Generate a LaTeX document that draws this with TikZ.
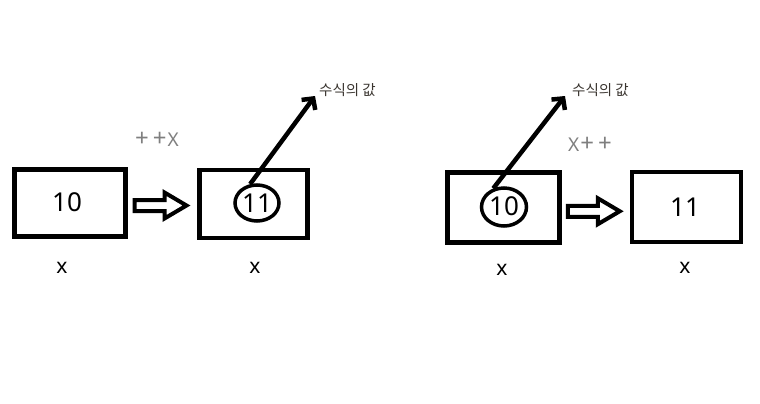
\documentclass[tikz,border=0pt]{standalone}
\usepackage{fontspec}
\setmainfont{Noto Sans}
\newfontfamily\kor{Noto Sans CJK KR}
\usetikzlibrary{arrows.meta,calc,shapes.geometric}
\definecolor{plusgray}{HTML}{7F7F7F}
\definecolor{kogray}{HTML}{3A3530}
\newcommand{\bigplus}{{\fontsize{24}{24}\selectfont +}}
\tikzset{
  valbox/.style={draw, line width=4.5pt, rectangle, inner sep=0pt},
  numtxt/.style={inner sep=0pt, font=\fontsize{26}{26}\selectfont},
  ring/.style={draw, line width=3.5pt, ellipse, inner sep=0pt},
  varlbl/.style={inner sep=0pt, font=\fontsize{21}{21}\selectfont},
  oplbl/.style={inner sep=0pt, text=plusgray, font=\fontsize{19}{19}\selectfont},
  kolbl/.style={inner sep=0pt, text=kogray, font=\kor\fontsize{14.5}{14.5}\selectfont},
  valarrow/.style={line width=4.5pt, -{Straight Barb[length=8pt,width=17pt]}},
  hollow/.pic={\draw[line width=4pt, line join=miter]
     (-26,-5.5) -- (4,-5.5) -- (4,-13) -- (26,0) -- (4,13) -- (4,5.5) -- (-26,5.5) -- cycle;}
}
\begin{document}
\begin{tikzpicture}[x=1pt,y=-1pt]
\useasboundingbox (0,0) rectangle (760,404);
% left: ++x
\node[valbox, minimum width=111pt, minimum height=67pt] (b1) at (70,203) {};
\node[numtxt] (n1) at (67,202) {10};
\node[valbox, minimum width=108pt, minimum height=68pt] (b2) at (253.5,204) {};
\node[numtxt] (n2) at (257,203) {11};
\node[ring, minimum width=44pt, minimum height=36pt] (e1) at (257,203) {};
\pic at ($(b1.east)!0.5!(b2.west)+(-2,2)$) {hollow};
\node[oplbl] (op1) at (157,139) {\bigplus\kern4pt\bigplus\kern1pt X};
\node[varlbl] (x1) at (62,268) {x};
\node[varlbl] (x2) at (255,268) {x};
\node[kolbl, anchor=west] (k1) at (319,90) {수식의 값};
\coordinate (t1) at (315,96);
\draw[valarrow] (e1.110) -- (t1);
% right: x++
\node[valbox, minimum width=112pt, minimum height=70pt] (b3) at (503.5,207.5) {};
\node[numtxt] (n3) at (504,206) {10};
\node[ring, minimum width=45pt, minimum height=38pt] (e2) at (504,207) {};
\node[valbox, minimum width=109pt, minimum height=70pt] (b4) at (686.5,207) {};
\node[numtxt] (n4) at (685,207) {11};
\pic at ($(b3.east)!0.5!(b4.west)+(-2,4)$) {hollow};
\node[oplbl] (op2) at (590,144) {X\kern1pt\bigplus\kern4pt\bigplus};
\node[varlbl] (x3) at (502,270) {x};
\node[varlbl] (x4) at (685,268) {x};
\node[kolbl, anchor=west] (k2) at (572,90) {수식의 값};
\coordinate (t2) at (565,96);
\draw[valarrow] (e2.120) -- (t2);
\end{tikzpicture}
\end{document}
